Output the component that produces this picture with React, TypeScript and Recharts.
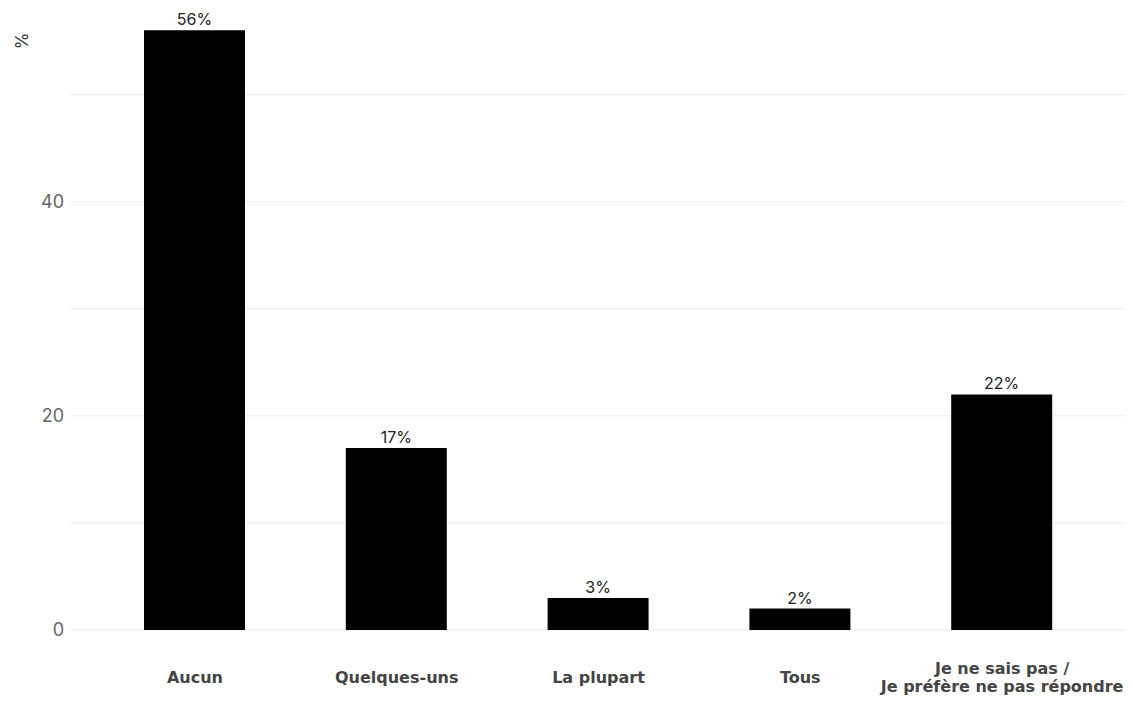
import { BarChart, Bar, XAxis, YAxis, CartesianGrid, LabelList } from "recharts";

const categories = ["Aucun", "Quelques-uns", "La plupart", "Tous", "Je ne sais pas /\nJe préfère ne pas répondre"];
const values = [56, 17, 3, 2, 22];
const yTicks = [0, 10, 20, 30, 40, 50];
const yLabels = [0, 20, 40];

const data = categories.map((cat, i) => ({ cat, value: values[i] }));

const FONT = "Inter, 'Open Sans', sans-serif";
const BOLD_FONT = "'DejaVu Sans', Inter, sans-serif";

function CatTick({ x, y, payload }: any) {
  const lines = String(payload.value).split("\n");
  const lh = 18;
  const y0 = y + 39 - ((lines.length - 1) * lh) / 2;
  return (
    <text x={x} y={y0} textAnchor="middle" fill="#444" fontSize={16} fontWeight={700} fontFamily={BOLD_FONT}>
      {lines.map((l, i) => (
        <tspan key={i} x={x} y={y0 + i * lh} dy="0.35em">{l}</tspan>
      ))}
    </text>
  );
}

export default function App() {
  return (
    <div style={{ position: "absolute", left: 0, top: 0, width: 1133, height: 707, background: "#fff" }}>
      <BarChart width={1133} height={707} data={data} margin={{ top: 25, right: 8, bottom: 0, left: 0 }}>
        <CartesianGrid vertical={false} stroke="#ebebeb" horizontalValues={yTicks} />
        <XAxis
          dataKey="cat"
          axisLine={false}
          tickLine={false}
          interval={0}
          padding={{ left: 24, right: 22 }}
          tick={<CatTick />}
          height={77}
        />
        <YAxis
          width={70}
          domain={[0, 56.5]}
          ticks={yTicks}
          axisLine={false}
          tickLine={false}
          tickFormatter={(v: number) => (yLabels.includes(v) ? String(v) : "")}
          tick={{ fill: "#666", fontSize: 18, fontFamily: FONT }}
          tickMargin={0}
          label={{
            content: () => (
              <text x={22} y={41} transform="rotate(-90 22 41)" textAnchor="middle" dominantBaseline="central" fill="#333" fontSize={17} fontFamily={FONT}>
                %
              </text>
            ),
          }}
        />
        <Bar dataKey="value" fill="#000" barSize={101} isAnimationActive={false}>
          <LabelList
            dataKey="value"
            position="top"
            offset={5}
            formatter={(v: any) => `${v}%`}
            style={{ fill: "#222", fontSize: 16, fontFamily: FONT }}
          />
        </Bar>
      </BarChart>
    </div>
  );
}
